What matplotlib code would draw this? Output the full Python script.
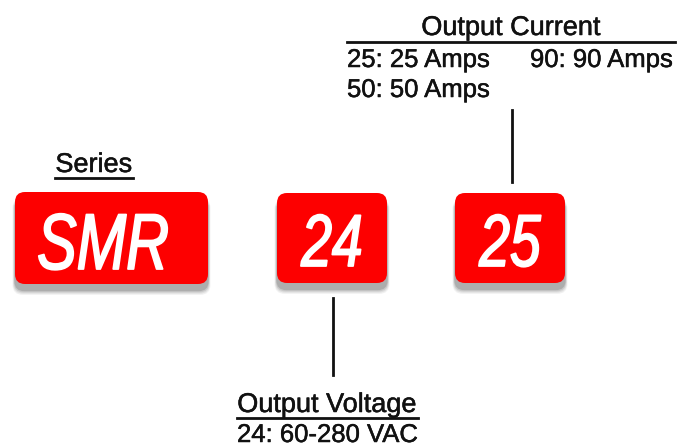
import matplotlib
matplotlib.use("Agg")
import matplotlib.pyplot as plt
from matplotlib.patches import FancyBboxPatch
from matplotlib.patheffects import AbstractPathEffect, withStroke
from matplotlib.transforms import Affine2D

# ---- content ----
codes = ["SMR", "24", "25"]
series_label = "Series"
voltage_title = "Output Voltage"
voltage_options = ["24: 60-280 VAC"]
current_title = "Output Current"
current_options_col1 = ["25: 25 Amps", "50: 50 Amps"]
current_options_col2 = ["90: 90 Amps"]

# ---- layout (pixel coords) ----
W, H = 678, 446
boxes = [(15, 192, 193, 92), (277, 193, 110, 90), (455, 193, 110, 90)]
code_pos = [(103, 269, 57), (332, 266, 53), (510, 266, 53)]
RED = "#fd0000"
INK = "#111111"
fam = ["Liberation Sans", "DejaVu Sans"]


class Squeeze(AbstractPathEffect):
    """Condense glyphs horizontally about a data point, with a slight embolden."""

    def __init__(self, ax, x, y, sx, lw=0.8, color="white"):
        super().__init__()
        self.ax, self.x, self.y, self.sx = ax, x, y, sx
        self.lw, self.color = lw, color

    def draw_path(self, renderer, gc, tpath, affine, rgbFace=None):
        cx, cy = self.ax.transData.transform((self.x, self.y))
        t = affine + Affine2D().translate(-cx, -cy).scale(self.sx, 1).translate(cx, cy)
        gc0 = renderer.new_gc()
        gc0.copy_properties(gc)
        gc0.set_linewidth(self.lw)
        gc0.set_foreground(self.color)
        gc0.set_joinstyle("round")
        renderer.draw_path(gc0, tpath, t, rgbFace)
        gc0.restore()


fig = plt.figure(figsize=(W / 100, H / 100), dpi=100)
ax = fig.add_axes([0, 0, 1, 1])
ax.set_xlim(0, W)
ax.set_ylim(H, 0)
ax.axis("off")

for (x, y, w, h), code, (tx, ty, fs) in zip(boxes, codes, code_pos):
    # soft shadow
    for i, a in enumerate([0.08, 0.10, 0.14, 0.20]):
        d = 8 - i * 2
        sh = FancyBboxPatch((x - d * 0.3, y + 6), w + d * 0.6, h + d * 0.6,
                            boxstyle="round,pad=0,rounding_size=10",
                            fc="#444444", ec="none", alpha=a, zorder=1)
        ax.add_patch(sh)
    box = FancyBboxPatch((x, y), w, h, boxstyle="round,pad=0,rounding_size=10",
                         fc=RED, ec="none", zorder=2)
    ax.add_patch(box)
    t = ax.text(tx, ty, code, color="white", fontsize=fs, style="italic",
                family=fam, ha="center", va="baseline", zorder=3)
    t.set_path_effects([Squeeze(ax, tx, ty, 0.75, lw=1.3)])

bold = [withStroke(linewidth=0.35, foreground=INK)]

# Series label
ax.text(94, 172, series_label, fontsize=19.5, family=fam, ha="center",
        va="baseline", color=INK, path_effects=bold)
ax.plot([55, 133], [178, 178], color=INK, lw=2)

# Output Current
ax.text(511, 35, current_title, fontsize=19.5, family=fam, ha="center",
        va="baseline", color=INK, path_effects=bold)
ax.plot([347, 675], [42, 42], color=INK, lw=2)
for i, t in enumerate(current_options_col1):
    ax.text(347, 67 + i * 30, t, fontsize=18.5, family=fam, ha="left",
            va="baseline", color=INK, path_effects=bold)
for i, t in enumerate(current_options_col2):
    ax.text(530, 67 + i * 30, t, fontsize=18.5, family=fam, ha="left",
            va="baseline", color=INK, path_effects=bold)
ax.plot([512, 512], [110, 182], color=INK, lw=2)

# Output Voltage
ax.plot([333, 333], [298, 375], color=INK, lw=2)
ax.text(327, 412, voltage_title, fontsize=19.5, family=fam, ha="center",
        va="baseline", color=INK, path_effects=bold)
ax.plot([237, 418], [418, 418], color=INK, lw=2)
for i, t in enumerate(voltage_options):
    ax.text(237, 442 + i * 30, t, fontsize=18.5, family=fam, ha="left",
            va="baseline", color=INK, path_effects=bold)

fig.savefig("out.png", dpi=100)
